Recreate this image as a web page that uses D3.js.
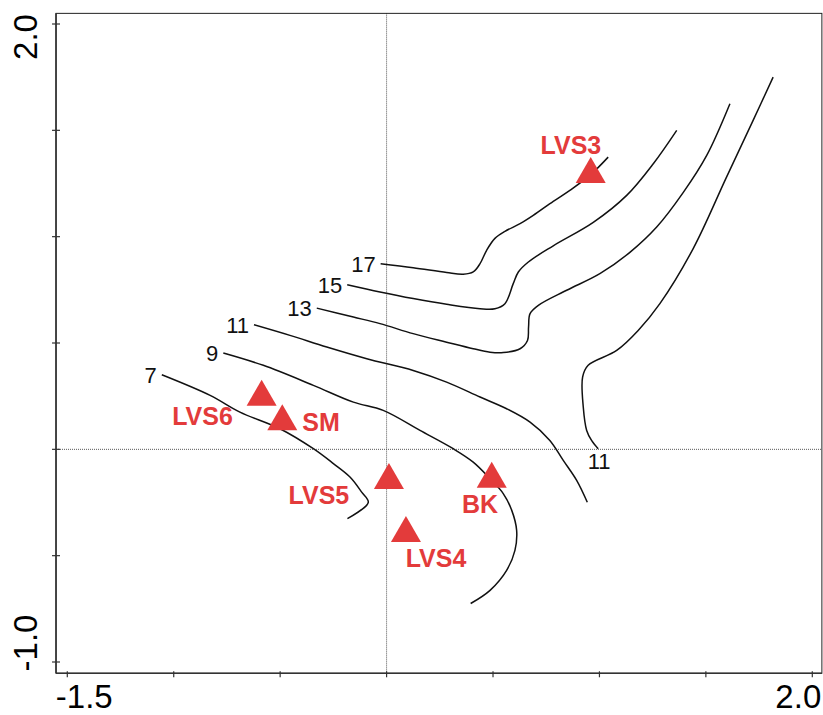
<!DOCTYPE html>
<head>
  <meta charset="utf-8">
  <script src="https://d3js.org/d3.v7.min.js"></script>
  <style>
    body { margin:0; background:#fff; }
    text { font-family: "Liberation Sans", Arial, sans-serif; }
  </style>
</head>
<body>
<script>

/* Data */
/* ==== */

// sites (triangles)
var siteNames = ["LVS3", "LVS4", "LVS5", "LVS6", "SM", "BK"];
var siteX = [0.959, 0.091, 0.011, -0.587, -0.490, 0.494];
var siteY = [1.293, -0.395, -0.146, 0.246, 0.131, -0.140];

// where the site names are written
var labelX = [0.866, 0.232, -0.318, -0.865, -0.308, 0.439];
var labelY = [1.431, -0.512, -0.216, 0.155, 0.129, -0.255];

// contour lines (fitted surface)
var contour7 = [[-1.056,0.351],[-0.829,0.254],[-0.689,0.175],[-0.501,0.097],[-0.344,0.003],
  [-0.250,-0.067],[-0.172,-0.130],[-0.117,-0.201],[-0.086,-0.249],[-0.184,-0.326]];

var contour9 = [[-0.767,0.453],[-0.579,0.395],[-0.344,0.301],[-0.156,0.222],[-0.016,0.183],
  [0.157,0.089],[0.313,0.003],[0.407,-0.060],[0.486,-0.138],[0.548,-0.208],[0.588,-0.287],
  [0.611,-0.381],[0.603,-0.475],[0.564,-0.569],[0.486,-0.663],[0.395,-0.725]];

var contour11a = [[-0.623,0.586],[-0.454,0.536],[-0.281,0.481],[-0.093,0.426],[0.125,0.371],
  [0.282,0.316],[0.439,0.246],[0.564,0.191],[0.674,0.128],[0.767,0.042],[0.830,-0.052],
  [0.893,-0.146],[0.943,-0.249]];

var contour11b = [[1.816,1.750],[1.722,1.547],[1.597,1.280],[1.441,0.945],[1.284,0.685],
  [1.182,0.559],[1.081,0.465],[0.947,0.395],[0.921,0.340],[0.924,0.199],[0.940,0.089],
  [0.963,0.042],[0.994,0.003]];

var contour13 = [[-0.328,0.664],[-0.156,0.622],[-0.031,0.591],[0.125,0.544],[0.282,0.504],
  [0.407,0.473],[0.486,0.457],[0.548,0.455],[0.627,0.473],[0.662,0.512],[0.667,0.575],
  [0.674,0.638],[0.713,0.677],[0.846,0.748],[1.002,0.826],[1.143,0.926],[1.269,1.045],
  [1.394,1.208],[1.504,1.382],[1.613,1.625]];

var contour15 = [[-0.185,0.774],[-0.031,0.740],[0.125,0.709],[0.282,0.682],[0.439,0.661],
  [0.509,0.661],[0.556,0.685],[0.595,0.779],[0.619,0.834],[0.666,0.881],[0.783,0.957],
  [0.971,1.067],[1.128,1.194],[1.253,1.343],[1.363,1.500]];

var contour17 = [[-0.028,0.873],[0.125,0.854],[0.282,0.831],[0.360,0.823],[0.407,0.834],
  [0.439,0.873],[0.470,0.936],[0.509,0.992],[0.556,1.025],[0.627,1.061],[0.689,1.100],
  [0.783,1.166],[0.861,1.218],[0.955,1.288],[1.041,1.374]];

var contourLines = [contour7, contour9, contour11a, contour11b, contour13, contour15, contour17];
var contourLevels = ["7", "9", "11", "11", "13", "15", "17"];
var labelAtEnd = [false, false, false, true, false, false, false];

// axis range and the labels shown at the ends
var xLim = [-1.553, 2.045],
    yLim = [-1.053, 2.05];
var xTicks = [-1.5, -1.0, -0.5, 0.0, 0.5, 1.0, 1.5, 2.0];
var yTicks = [-1.0, -0.5, 0.0, 0.5, 1.0, 1.5, 2.0];
var xEndLabels = ["-1.5", "2.0"];
var yEndLabels = ["-1.0", "2.0"];


/* Set up */
/* ====== */

var width = 823,
    height = 715,
    red = '#e33b3b';

var x = d3.scaleLinear().domain([-1.5, 2.0]).range([67.3, 812.3]);
var y = d3.scaleLinear().domain([-1.0, 2.0]).range([662, 24]);

var svg = d3.select('body')
  .append('svg')
    .attr('width', width)
    .attr('height', height);

var x0 = x(xLim[0]), x1 = x(xLim[1]),
    y0 = y(yLim[0]), y1 = y(yLim[1]);

// zero lines
svg.append('line')
    .attr('x1', x(0)).attr('x2', x(0))
    .attr('y1', y1).attr('y2', y0)
    .attr('stroke', '#555')
    .attr('stroke-width', 1)
    .attr('stroke-dasharray', '1,1');

svg.append('line')
    .attr('x1', x0).attr('x2', x1)
    .attr('y1', y(0)).attr('y2', y(0))
    .attr('stroke', '#555')
    .attr('stroke-width', 1)
    .attr('stroke-dasharray', '1,1');

// frame
svg.append('rect')
    .attr('x', x0).attr('y', y1)
    .attr('width', x1 - x0)
    .attr('height', y0 - y1)
    .attr('fill', 'none')
    .attr('stroke', '#222')
    .attr('stroke-width', 1);

svg.append('line')
    .attr('x1', x0).attr('x2', x0)
    .attr('y1', y1).attr('y2', y0)
    .attr('stroke', '#333')
    .attr('stroke-width', 1.6);

svg.append('line')
    .attr('x1', x0).attr('x2', x1)
    .attr('y1', y0).attr('y2', y0)
    .attr('stroke', '#333')
    .attr('stroke-width', 1.6);

// ticks crossing the axis lines
svg.selectAll('.ytick')
    .data(yTicks)
    .enter()
  .append('line')
    .attr('class', 'ytick')
    .attr('x1', x0 - 4).attr('x2', x0 + 4)
    .attr('y1', function(d) { return y(d); })
    .attr('y2', function(d) { return y(d); })
    .attr('stroke', '#333')
    .attr('stroke-width', 1.2);

svg.selectAll('.xtick')
    .data(xTicks)
    .enter()
  .append('line')
    .attr('class', 'xtick')
    .attr('y1', y0 - 2).attr('y2', y0 + 4)
    .attr('x1', function(d) { return x(d); })
    .attr('x2', function(d) { return x(d); })
    .attr('stroke', '#333')
    .attr('stroke-width', 1.2);

// end labels, pulled inside the tick range
svg.append('text')
    .attr('transform', 'translate(37,' + (y(2.0) + 13) + ') rotate(-90)')
    .attr('text-anchor', 'middle')
    .attr('font-size', 33)
    .text(yEndLabels[1]);

svg.append('text')
    .attr('transform', 'translate(37,' + (y(-1.0) - 19) + ') rotate(-90)')
    .attr('text-anchor', 'middle')
    .attr('font-size', 33)
    .text(yEndLabels[0]);

svg.append('text')
    .attr('x', x(-1.5) + 17).attr('y', 708)
    .attr('text-anchor', 'middle')
    .attr('font-size', 33)
    .text(xEndLabels[0]);

svg.append('text')
    .attr('x', x(2.0) - 14).attr('y', 708)
    .attr('text-anchor', 'middle')
    .attr('font-size', 33)
    .text(xEndLabels[1]);


/* Contours */
/* ======== */

var line = d3.line()
    .x(function(d) { return x(d[0]); })
    .y(function(d) { return y(d[1]); })
    .curve(d3.curveCatmullRom.alpha(0.5));

svg.selectAll('.contour')
    .data(contourLines)
    .enter()
  .append('path')
    .attr('class', 'contour')
    .attr('d', line)
    .attr('fill', 'none')
    .attr('stroke', '#111')
    .attr('stroke-width', 1.5);

svg.selectAll('.level')
    .data(contourLines)
    .enter()
  .append('text')
    .attr('class', 'level')
    .attr('x', function(d, i) {
      return labelAtEnd[i] ? x(d[d.length - 1][0]) + 1 : x(d[0][0]) - 5;
    })
    .attr('y', function(d, i) {
      return labelAtEnd[i] ? y(d[d.length - 1][1]) + 20 : y(d[0][1]) + 8;
    })
    .attr('text-anchor', function(d, i) { return labelAtEnd[i] ? 'middle' : 'end'; })
    .attr('font-size', 22)
    .attr('fill', '#111')
    .text(function(d, i) { return contourLevels[i]; });


/* Sites */
/* ===== */

var triangle = d3.symbol().type(d3.symbolTriangle).size(390);

svg.selectAll('.site')
    .data(siteNames)
    .enter()
  .append('path')
    .attr('class', 'site')
    .attr('d', triangle)
    .attr('transform', function(d, i) {
      return 'translate(' + x(siteX[i]) + ',' + y(siteY[i]) + ')';
    })
    .attr('fill', red);

svg.selectAll('.sitelabel')
    .data(siteNames)
    .enter()
  .append('text')
    .attr('class', 'sitelabel')
    .attr('x', function(d, i) { return x(labelX[i]); })
    .attr('y', function(d, i) { return y(labelY[i]) + 9; })
    .attr('text-anchor', 'middle')
    .attr('font-size', 25)
    .attr('font-weight', 'bold')
    .attr('fill', red)
    .text(function(d) { return d; });

</script>
</body>
